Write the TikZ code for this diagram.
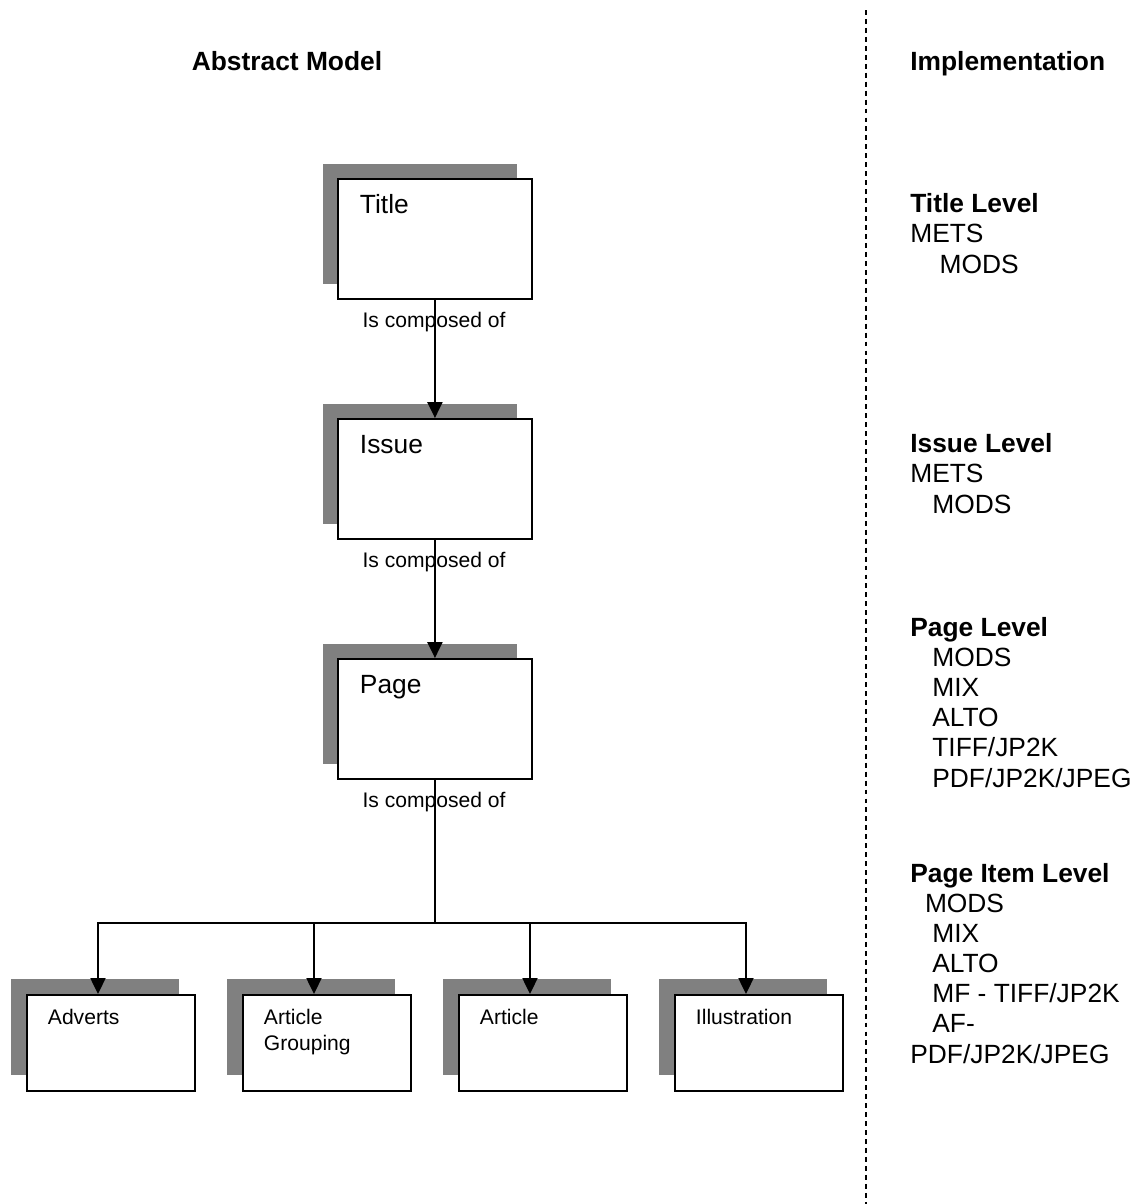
\documentclass[tikz,border=0pt]{standalone}
\usepackage{fontspec}
\setmainfont{Liberation Sans}
\usetikzlibrary{arrows.meta,shadows}

\newcommand{\indsp}[1]{\hspace*{#1\fontdimen2\font}}

\begin{document}
\begin{tikzpicture}[
    x=0.02cm, y=-0.02cm,
    box/.style={
        rectangle,
        draw=black,
        line width=1.1pt,
        fill=white,
        anchor=north west,
        inner ysep=0pt,
        align=left
    },
    level/.style={
        box,
        inner xsep=0.44cm,
        text width=3cm,
        text height=0.7cm,
        text depth=1.7cm,
        font=\fontsize{15}{17}\selectfont,
        general shadow={fill=black!50, shadow xshift=-0.3cm, shadow yshift=0.3cm}
    },
    item/.style={
        box,
        inner xsep=0.42cm,
        text width=2.52cm,
        text height=0.6cm,
        text depth=1.32cm,
        font=\fontsize{12}{14.8}\selectfont,
        general shadow={fill=black!50, shadow xshift=-0.32cm, shadow yshift=0.32cm}
    },
    rel/.style={anchor=base, inner sep=0pt, font=\fontsize{12}{14}\selectfont},
    head/.style={inner sep=0pt, font=\fontsize{15}{17.1}\selectfont\bfseries},
    impl/.style={anchor=base west, inner sep=0pt, align=left, font=\fontsize{15}{17.1}\selectfont},
    link/.style={line width=1.1pt},
    arrow/.style={link, -{Triangle[length=9pt,width=8.5pt]}},
    divider/.style={line width=0.85pt, dash pattern=on 2.8pt off 2.3pt}
]

\useasboundingbox (0,0) rectangle (1139,1204);

\node[head, anchor=base] (abstract) at (287,70) {Abstract Model};
\node[head, anchor=base west] (implement) at (910,70) {Implementation};

\coordinate (divtop) at (866,10);
\coordinate (divbot) at (866,1204);
\draw[divider] (divtop) -- (divbot);

\node[level] (title) at (337,178) {Title};
\node[level] (issue) at (337,418) {Issue};
\node[level] (page) at (337,658) {Page};

\node[item] (adverts) at (26,994) {Adverts};
\node[item] (grouping) at (242,994) {Article\\Grouping};
\node[item] (article) at (458,994) {Article};
\node[item] (illus) at (674,994) {Illustration};

\node[rel] (rel1) at (434,327) {Is composed of};
\node[rel] (rel2) at (434,567) {Is composed of};
\node[rel] (rel3) at (434,807) {Is composed of};

\draw[arrow] (title.south) -- (issue.north);
\draw[arrow] (issue.south) -- (page.north);
\coordinate (forklevel) at (0,923);
\coordinate (fork) at (page.south |- forklevel);
\draw[link] (page.south) -- (fork);
\foreach \child in {adverts,grouping,article,illus}
    \draw[arrow] (fork) -| ([xshift=1.44cm]\child.north west);

% blocks are placed by the baseline of their last line
\node[impl] (titlelvl) at (910,273) {\textbf{Title Level}\\METS\\\indsp{4}MODS};
\node[impl] (issuelvl) at (910,513) {\textbf{Issue Level}\\METS\\\indsp{3}MODS};
\node[impl] (pagelvl) at (910,787) {\textbf{Page Level}\\\indsp{3}MODS\\\indsp{3}MIX\\\indsp{3}ALTO\\\indsp{3}TIFF/JP2K\\\indsp{3}PDF/JP2K/JPEG};
\node[impl] (itemlvl) at (910,1063) {\textbf{Page Item Level}\\\indsp{2}MODS\\\indsp{3}MIX\\\indsp{3}ALTO\\\indsp{3}MF - TIFF/JP2K\\\indsp{3}AF-\\PDF/JP2K/JPEG};

\end{tikzpicture}
\end{document}
